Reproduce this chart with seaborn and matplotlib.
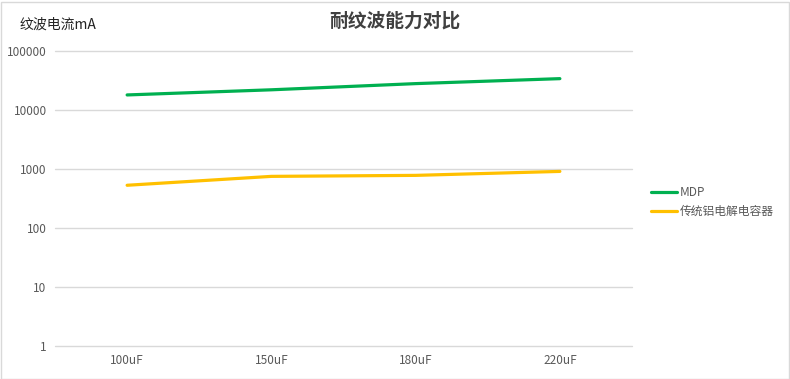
import seaborn as sns
import matplotlib.pyplot as plt
import pandas as pd
from matplotlib.patches import Rectangle

sns.set_theme(style="white")
plt.rcParams['font.family'] = ['Noto Sans CJK SC', 'DejaVu Sans']

# data
capacitance = ["100uF", "150uF", "180uF", "220uF"]
mdp_ripple = [18000, 22000, 28000, 34000]
alu_ripple = [530, 750, 780, 910]
series_names = ["MDP", "传统铝电解电容器"]
y_ticks = [1, 10, 100, 1000, 10000, 100000]

df = pd.DataFrame({
    "cap": capacitance * 2,
    "ripple": mdp_ripple + alu_ripple,
    "series": [series_names[0]] * 4 + [series_names[1]] * 4,
})

fig = plt.figure(figsize=(7.9, 3.79), dpi=100)
ax = fig.add_axes([55 / 790, 33 / 379, 577 / 790, 295 / 379])

sns.lineplot(data=df, x="cap", y="ripple", hue="series", sort=False,
             palette=["#00B050", "#FFC000"], linewidth=2.3, ax=ax)

ax.set_yscale("log")
ax.set_ylim(1, 100000)
ax.set_xlim(-0.5, 3.5)
ax.set_yticks(y_ticks)
ax.set_yticklabels([str(v) for v in y_ticks])
ax.minorticks_off()
ax.yaxis.grid(True, color="#d9d9d9", linewidth=1)
ax.xaxis.grid(False)
for gl in ax.get_ygridlines():
    gl.set_clip_on(False)
for s in ax.spines.values():
    s.set_visible(False)
ax.tick_params(axis="both", length=0, labelsize=8.5, colors="#595959", pad=6)
ax.set_xlabel("")
ax.set_ylabel("")

fig.text(20 / 790, 1 - 25 / 379, "纹波电流mA", fontsize=10, color="#222222",
         va="center", ha="left")
fig.text(395 / 790, 1 - 21 / 379, "耐纹波能力对比", fontsize=13.5, color="#404040",
         va="center", ha="center", fontweight="bold")

ax.legend(title=None, frameon=False, loc="center left",
          bbox_to_anchor=(640 / 790, 1 - 202 / 379), bbox_transform=fig.transFigure,
          fontsize=8.5, handlelength=2.2, handletextpad=0.3, labelspacing=0.5,
          labelcolor="#595959")

fig.patches.append(Rectangle((0.5 / 790, 0.5 / 379), 788 / 790, 377 / 379,
                             transform=fig.transFigure, fill=False,
                             edgecolor="#d9d9d9", linewidth=1))

fig.savefig("out.png", dpi=100)
